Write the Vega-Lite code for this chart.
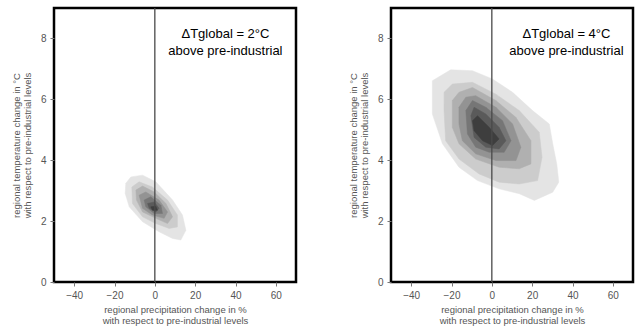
{
  "$schema": "https://vega.github.io/schema/vega-lite/v6.json",
  "background": "white",
  "padding": {"left": 10, "top": 6, "right": 5, "bottom": 2},
  "spacing": 95,
  "bounds": "flush",
  "datasets": {
    "c2": [
      {"level": 1, "i": 1, "x": -14.4, "y": 3.24}, {"level": 1, "i": 2, "x": -11.9, "y": 3.45}, {"level": 1, "i": 3, "x": -6.1, "y": 3.51}, {"level": 1, "i": 4, "x": 0.5, "y": 3.29}, {"level": 1, "i": 5, "x": 8.8, "y": 2.69}, {"level": 1, "i": 6, "x": 13.7, "y": 2.2}, {"level": 1, "i": 7, "x": 15.4, "y": 1.7}, {"level": 1, "i": 8, "x": 12.9, "y": 1.38}, {"level": 1, "i": 9, "x": 8.8, "y": 1.43}, {"level": 1, "i": 10, "x": 2.1, "y": 1.65}, {"level": 1, "i": 11, "x": -6.1, "y": 1.98}, {"level": 1, "i": 12, "x": -12.7, "y": 2.47}, {"level": 1, "i": 13, "x": -14.7, "y": 2.91},
      {"level": 2, "i": 1, "x": -11.4, "y": 3.12}, {"level": 2, "i": 2, "x": -7.8, "y": 3.29}, {"level": 2, "i": 3, "x": -1.2, "y": 3.12}, {"level": 2, "i": 4, "x": 6.3, "y": 2.69}, {"level": 2, "i": 5, "x": 11.2, "y": 2.2}, {"level": 2, "i": 6, "x": 11.2, "y": 1.81}, {"level": 2, "i": 7, "x": 7.1, "y": 1.76}, {"level": 2, "i": 8, "x": 0.5, "y": 1.92}, {"level": 2, "i": 9, "x": -6.1, "y": 2.14}, {"level": 2, "i": 10, "x": -11.1, "y": 2.58},
      {"level": 3, "i": 1, "x": -9.4, "y": 3.02}, {"level": 3, "i": 2, "x": -6.1, "y": 3.15}, {"level": 3, "i": 3, "x": -0.3, "y": 2.96}, {"level": 3, "i": 4, "x": 5.5, "y": 2.58}, {"level": 3, "i": 5, "x": 8.8, "y": 2.14}, {"level": 3, "i": 6, "x": 6.3, "y": 1.92}, {"level": 3, "i": 7, "x": 0.5, "y": 2.09}, {"level": 3, "i": 8, "x": -6.1, "y": 2.3}, {"level": 3, "i": 9, "x": -9.1, "y": 2.69},
      {"level": 4, "i": 1, "x": -7.8, "y": 2.85}, {"level": 4, "i": 2, "x": -4.5, "y": 2.96}, {"level": 4, "i": 3, "x": 2.1, "y": 2.69}, {"level": 4, "i": 4, "x": 6.3, "y": 2.3}, {"level": 4, "i": 5, "x": 4.6, "y": 2.09}, {"level": 4, "i": 6, "x": -1.2, "y": 2.2}, {"level": 4, "i": 7, "x": -6.1, "y": 2.42},
      {"level": 5, "i": 1, "x": -5.3, "y": 2.69}, {"level": 5, "i": 2, "x": -2.0, "y": 2.8}, {"level": 5, "i": 3, "x": 3.0, "y": 2.52}, {"level": 5, "i": 4, "x": 3.8, "y": 2.25}, {"level": 5, "i": 5, "x": -0.3, "y": 2.25}, {"level": 5, "i": 6, "x": -4.5, "y": 2.47},
      {"level": 6, "i": 1, "x": -3.6, "y": 2.58}, {"level": 6, "i": 2, "x": -0.3, "y": 2.63}, {"level": 6, "i": 3, "x": 2.1, "y": 2.42}, {"level": 6, "i": 4, "x": 0.5, "y": 2.3}, {"level": 6, "i": 5, "x": -2.8, "y": 2.42},
      {"level": 7, "i": 1, "x": -2.0, "y": 2.47}, {"level": 7, "i": 2, "x": 0.5, "y": 2.49}, {"level": 7, "i": 3, "x": 1.3, "y": 2.36}, {"level": 7, "i": 4, "x": -1.2, "y": 2.36}
    ],
    "c4": [
      {"level": 1, "i": 1, "x": -29.5, "y": 6.61}, {"level": 1, "i": 2, "x": -20.4, "y": 6.97}, {"level": 1, "i": 3, "x": -9.6, "y": 6.94}, {"level": 1, "i": 4, "x": 0.3, "y": 6.67}, {"level": 1, "i": 5, "x": 10.3, "y": 6.23}, {"level": 1, "i": 6, "x": 20.2, "y": 5.63}, {"level": 1, "i": 7, "x": 28.5, "y": 5.19}, {"level": 1, "i": 8, "x": 30.2, "y": 4.54}, {"level": 1, "i": 9, "x": 32.2, "y": 3.88}, {"level": 1, "i": 10, "x": 33.2, "y": 3.28}, {"level": 1, "i": 11, "x": 30.2, "y": 2.95}, {"level": 1, "i": 12, "x": 21.1, "y": 2.68}, {"level": 1, "i": 13, "x": 13.6, "y": 2.9}, {"level": 1, "i": 14, "x": 3.6, "y": 3.06}, {"level": 1, "i": 15, "x": -7.1, "y": 3.33}, {"level": 1, "i": 16, "x": -16.3, "y": 3.77}, {"level": 1, "i": 17, "x": -24.5, "y": 4.54}, {"level": 1, "i": 18, "x": -29.5, "y": 5.52},
      {"level": 2, "i": 1, "x": -23.7, "y": 6.23}, {"level": 2, "i": 2, "x": -19.6, "y": 6.5}, {"level": 2, "i": 3, "x": -9.6, "y": 6.56}, {"level": 2, "i": 4, "x": 2.0, "y": 6.17}, {"level": 2, "i": 5, "x": 13.6, "y": 5.63}, {"level": 2, "i": 6, "x": 23.5, "y": 4.92}, {"level": 2, "i": 7, "x": 24.9, "y": 4.1}, {"level": 2, "i": 8, "x": 22.7, "y": 3.33}, {"level": 2, "i": 9, "x": 13.6, "y": 3.22}, {"level": 2, "i": 10, "x": 3.6, "y": 3.28}, {"level": 2, "i": 11, "x": -6.3, "y": 3.55}, {"level": 2, "i": 12, "x": -16.3, "y": 4.04}, {"level": 2, "i": 13, "x": -22.9, "y": 4.64}, {"level": 2, "i": 14, "x": -23.7, "y": 5.63},
      {"level": 3, "i": 1, "x": -19.6, "y": 5.96}, {"level": 3, "i": 2, "x": -16.3, "y": 6.23}, {"level": 3, "i": 3, "x": -9.6, "y": 6.39}, {"level": 3, "i": 4, "x": 2.0, "y": 5.96}, {"level": 3, "i": 5, "x": 11.9, "y": 5.41}, {"level": 3, "i": 6, "x": 19.4, "y": 4.64}, {"level": 3, "i": 7, "x": 19.4, "y": 3.88}, {"level": 3, "i": 8, "x": 13.6, "y": 3.72}, {"level": 3, "i": 9, "x": 3.6, "y": 3.77}, {"level": 3, "i": 10, "x": -8.0, "y": 4.04}, {"level": 3, "i": 11, "x": -16.3, "y": 4.54}, {"level": 3, "i": 12, "x": -19.6, "y": 5.08},
      {"level": 4, "i": 1, "x": -16.3, "y": 5.74}, {"level": 4, "i": 2, "x": -12.9, "y": 6.07}, {"level": 4, "i": 3, "x": -8.0, "y": 6.12}, {"level": 4, "i": 4, "x": 2.0, "y": 5.74}, {"level": 4, "i": 5, "x": 10.3, "y": 5.19}, {"level": 4, "i": 6, "x": 14.4, "y": 4.43}, {"level": 4, "i": 7, "x": 12.0, "y": 3.99}, {"level": 4, "i": 8, "x": 2.0, "y": 3.99}, {"level": 4, "i": 9, "x": -8.0, "y": 4.21}, {"level": 4, "i": 10, "x": -14.6, "y": 4.64}, {"level": 4, "i": 11, "x": -16.3, "y": 5.19},
      {"level": 5, "i": 1, "x": -12.9, "y": 5.63}, {"level": 5, "i": 2, "x": -9.6, "y": 5.96}, {"level": 5, "i": 3, "x": -3.0, "y": 5.74}, {"level": 5, "i": 4, "x": 5.3, "y": 5.3}, {"level": 5, "i": 5, "x": 9.5, "y": 4.64}, {"level": 5, "i": 6, "x": 6.1, "y": 4.26}, {"level": 5, "i": 7, "x": -1.3, "y": 4.26}, {"level": 5, "i": 8, "x": -8.0, "y": 4.43}, {"level": 5, "i": 9, "x": -12.1, "y": 4.86},
      {"level": 6, "i": 1, "x": -10.4, "y": 5.46}, {"level": 6, "i": 2, "x": -8.8, "y": 5.74}, {"level": 6, "i": 3, "x": -3.0, "y": 5.52}, {"level": 6, "i": 4, "x": 3.6, "y": 5.08}, {"level": 6, "i": 5, "x": 7.0, "y": 4.64}, {"level": 6, "i": 6, "x": 3.6, "y": 4.37}, {"level": 6, "i": 7, "x": -3.0, "y": 4.43}, {"level": 6, "i": 8, "x": -8.8, "y": 4.75},
      {"level": 7, "i": 1, "x": -9.6, "y": 5.3}, {"level": 7, "i": 2, "x": -7.1, "y": 5.46}, {"level": 7, "i": 3, "x": -1.3, "y": 5.08}, {"level": 7, "i": 4, "x": 3.6, "y": 4.7}, {"level": 7, "i": 5, "x": 0.3, "y": 4.48}, {"level": 7, "i": 6, "x": -4.6, "y": 4.64}, {"level": 7, "i": 7, "x": -8.8, "y": 4.97}
    ]
  },
  "hconcat": [
    {
      "width": 242,
      "height": 274,
      "layer": [
        {
          "data": {"name": "c2"},
          "mark": {"type": "line", "interpolate": "linear-closed", "strokeWidth": 0.5},
          "encoding": {
            "x": {"field": "x", "type": "quantitative", "scale": {"domain": [-50, 70], "nice": false}, "axis": {"values": [-40, -20, 0, 20, 40, 60], "title": ["regional precipitation change in %", "with respect to pre-industrial levels"]}},
            "y": {"field": "y", "type": "quantitative", "scale": {"domain": [0, 9], "nice": false}, "axis": {"values": [0, 2, 4, 6, 8], "title": ["regional temperature change in °C", "with respect to pre-industrial levels"]}},
            "order": {"field": "i", "type": "quantitative"},
            "detail": {"field": "level", "type": "ordinal"},
            "fill": {"field": "level", "type": "ordinal", "scale": {"domain": [1, 2, 3, 4, 5, 6, 7], "range": ["#e4e4e4", "#cccccc", "#b0b0b0", "#939393", "#767676", "#5a5a5a", "#3e3e3e"]}, "legend": null},
            "stroke": {"field": "level", "type": "ordinal", "scale": {"domain": [1, 2, 3, 4, 5, 6, 7], "range": ["#e4e4e4", "#cccccc", "#b0b0b0", "#939393", "#767676", "#5a5a5a", "#3e3e3e"]}, "legend": null}
          }
        },
        {"data": {"values": [{}]}, "mark": {"type": "rule", "color": "#4a4a4a", "strokeWidth": 1.3}, "encoding": {"x": {"datum": 0}}},
        {"data": {"values": [{}]}, "mark": {"type": "text", "font": "Liberation Sans", "fontSize": 13, "align": "center", "baseline": "middle", "lineHeight": 17, "color": "black"}, "encoding": {"x": {"datum": 35}, "y": {"datum": 8.15}, "text": {"value": ["ΔTglobal = 2°C", "above pre-industrial"]}}}
      ]
    },
    {
      "width": 242,
      "height": 274,
      "layer": [
        {
          "data": {"name": "c4"},
          "mark": {"type": "line", "interpolate": "linear-closed", "strokeWidth": 0.5},
          "encoding": {
            "x": {"field": "x", "type": "quantitative", "scale": {"domain": [-50, 70], "nice": false}, "axis": {"values": [-40, -20, 0, 20, 40, 60], "title": ["regional precipitation change in %", "with respect to pre-industrial levels"]}},
            "y": {"field": "y", "type": "quantitative", "scale": {"domain": [0, 9], "nice": false}, "axis": {"values": [0, 2, 4, 6, 8], "title": ["regional temperature change in °C", "with respect to pre-industrial levels"]}},
            "order": {"field": "i", "type": "quantitative"},
            "detail": {"field": "level", "type": "ordinal"},
            "fill": {"field": "level", "type": "ordinal", "scale": {"domain": [1, 2, 3, 4, 5, 6, 7], "range": ["#e8e8e8", "#d6d6d6", "#c3c3c3", "#adadad", "#959595", "#7a7a7a", "#555555"]}, "legend": null},
            "stroke": {"field": "level", "type": "ordinal", "scale": {"domain": [1, 2, 3, 4, 5, 6, 7], "range": ["#e8e8e8", "#d6d6d6", "#c3c3c3", "#adadad", "#959595", "#7a7a7a", "#555555"]}, "legend": null}
          }
        },
        {"data": {"values": [{}]}, "mark": {"type": "rule", "color": "#4a4a4a", "strokeWidth": 1.3}, "encoding": {"x": {"datum": 0}}},
        {"data": {"values": [{}]}, "mark": {"type": "text", "font": "Liberation Sans", "fontSize": 13, "align": "center", "baseline": "middle", "lineHeight": 17, "color": "black"}, "encoding": {"x": {"datum": 37}, "y": {"datum": 8.15}, "text": {"value": ["ΔTglobal = 4°C", "above pre-industrial"]}}}
      ]
    }
  ],
  "config": {
    "view": {"stroke": "black", "strokeWidth": 2.5},
    "axis": {
      "domain": false,
      "grid": false,
      "ticks": true,
      "tickColor": "#777777",
      "tickSize": 4,
      "labelFont": "Liberation Sans",
      "labelFontSize": 10,
      "labelColor": "#555555",
      "labelPadding": 4,
      "titleFont": "Liberation Sans",
      "titleFontSize": 9.5,
      "titleFontWeight": "normal",
      "titleColor": "#555555",
      "titleLineHeight": 11
    },
    "axisY": {"titlePadding": 8},
    "axisX": {"titlePadding": 4}
  }
}
